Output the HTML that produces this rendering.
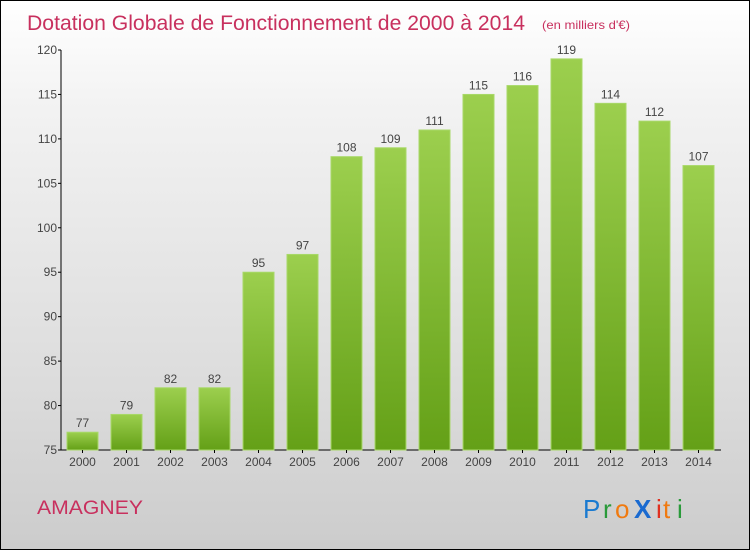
<!DOCTYPE html>
<html><head><meta charset="utf-8"><style>
body{margin:0}
#wrap{position:relative;width:748px;height:548px;border:1px solid #000;background:linear-gradient(#ffffff,#f2f2f2 20%,#dcdcdc 70%,#cccccc);font-family:"Liberation Sans",sans-serif;overflow:hidden}
</style></head><body>
<div id="wrap">
<svg width="748" height="548" style="position:absolute;left:0;top:0">
<defs><linearGradient id="g" x1="0" y1="0" x2="0" y2="1"><stop offset="0" stop-color="#9ccf4e"/><stop offset="1" stop-color="#64a017"/></linearGradient></defs>
<text x="26" y="29" font-size="21" fill="#c8305e" textLength="498" lengthAdjust="spacingAndGlyphs">Dotation Globale de Fonctionnement de 2000 à 2014</text>
<text x="541" y="28" font-size="12" fill="#c8305e" textLength="88" lengthAdjust="spacingAndGlyphs">(en milliers d'€)</text>
<g id="plot"></g>
<text x="36" y="513" font-size="19" fill="#c8305e" textLength="106" lengthAdjust="spacingAndGlyphs">AMAGNEY</text>
<g font-size="26">
<text x="582" y="517" fill="#1a7ad0">P</text><text x="602" y="517" fill="#2a9a3a">r</text><text x="614" y="517" fill="#f07a10">o</text><text x="633" y="517" fill="#1a6ad0" font-weight="bold">X</text><text x="655" y="517" fill="#e03020">i</text><text x="662" y="517" fill="#f07a10">t</text><text x="676" y="517" fill="#2a9a3a">i</text>
</g>
</svg>
</div>
<script>
const years=["2000","2001","2002","2003","2004","2005","2006","2007","2008","2009","2010","2011","2012","2013","2014"];
const values=[77,79,82,82,95,97,108,109,111,115,116,119,114,112,107];
const yTicks=[75,80,85,90,95,100,105,110,115,120];
const NS="http://www.w3.org/2000/svg";
const g=document.getElementById('plot');
const y0=449,yTop=49,vmin=75,vmax=120;
const ys=v=>y0-(v-vmin)/(vmax-vmin)*(y0-yTop);
const xs=i=>66+i*44;
function el(t,a){const e=document.createElementNS(NS,t);for(const k in a)e.setAttribute(k,a[k]);g.appendChild(e);return e;}
let ax=el('line',{x1:60,y1:yTop,x2:60,y2:y0,stroke:'#000'});


let bx=el('line',{x1:60,y1:y0,x2:720,y2:y0,stroke:'#000'});


yTicks.forEach(v=>{
 const t=el('line',{x1:57,x2:60,y1:ys(v),y2:ys(v),stroke:'#000'});
 
 
 const l=el('text',{x:56,y:ys(v)+4,'font-size':12,fill:'#444','text-anchor':'end'});
 l.textContent=v;
 
 
});
values.forEach((v,i)=>{
 const x=xs(i);
 const r=el('rect',{x:x,y:ys(v),width:31,height:y0-ys(v),fill:'url(#g)',stroke:'#a8d868','stroke-width':1});
 
 
 const l=el('text',{x:x+15.5,y:ys(v)-5,'font-size':12,fill:'#444','text-anchor':'middle'});
 l.textContent=v;
 
 
 const t=el('line',{x1:x+15.5,x2:x+15.5,y1:y0,y2:y0+3,stroke:'#000'});
 
 
 const yl=el('text',{x:x+15.5,y:465,'font-size':12,fill:'#444','text-anchor':'middle'});
 yl.textContent=years[i];
 
 
});
</script>
</body></html>
